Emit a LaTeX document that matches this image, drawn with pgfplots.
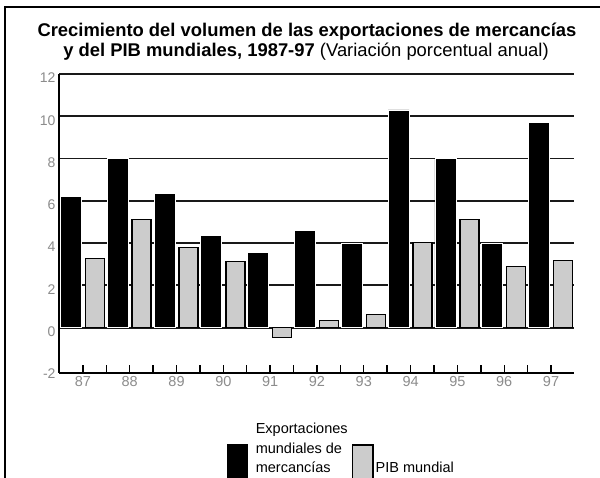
\documentclass[border=0pt]{standalone}
\usepackage{fontspec}
\setmainfont{Liberation Sans}
\usepackage{pgfplots}
\pgfplotsset{compat=1.18}
\begin{document}
\begin{tikzpicture}
\useasboundingbox (0pt,0pt) rectangle (600pt,478pt);
\clip (0pt,0pt) rectangle (600pt,478pt);
\fill[white] (0pt,0pt) rectangle (600pt,478pt);
\draw[line width=1.6pt] (5pt,-20pt) -- (5pt,471pt) -- (620pt,471pt);
\node[anchor=base, inner sep=0pt, font=\fontsize{18.4}{22}\selectfont\bfseries] at (307pt,441.5pt) {Crecimiento del volumen de las exportaciones de mercancías};
\node[anchor=base, inner sep=0pt, font=\fontsize{18.4}{22}\selectfont] at (306pt,421pt) {\textbf{y del PIB mundiales, 1987-97} (Variación porcentual anual)};
\begin{axis}[
  at={(59pt,105pt)}, anchor=south west,
  scale only axis, width=515pt, height=299pt,
  xmin=86.49, xmax=97.49, ymin=-2.15, ymax=12,
  axis x line*=bottom, axis y line*=left,
  axis line style={line width=1.9pt, black},
  xtick={87,88,...,97},
  extra x ticks={87.5,88.5,...,96.5}, extra x tick labels={},
  extra x tick style={grid=none},
  ytick={0,2,...,12},
  extra y ticks={-2}, extra y tick style={grid=none, ytick style={draw=none}},
  ymajorgrids, grid style={line width=1.9pt, black!90},
  tick align=inside, major tick length=8pt,
  xtick style={line width=1.4pt, black},
  ytick style={draw=none},
  /pgf/number format/assume math mode=true,
  yticklabel style={font=\fontsize{14}{14}\selectfont, text=black!45, yshift=-4pt},
  xticklabel style={font=\fontsize{14.5}{14.5}\selectfont, text=black!45},
  legend columns=2,
  legend style={at={(axis description cs:0.32621,-0.15167)}, anchor=north west,
    draw=none, fill=none, inner sep=0pt, outer sep=0pt,
    font=\fontsize{14.5}{19.5}\selectfont,
    cells={anchor=base west, inner sep=0pt},
    column sep=0pt,
    /tikz/every even column/.append style={column sep=2pt}},
]
\addplot[ybar, bar width=21pt, bar shift=-12pt, fill=black, draw=white, line width=0.8pt,
  legend image code/.code={\fill[black] (0pt,-20pt) rectangle (20pt,29pt); \path (26pt,0pt);}]
  coordinates {(87,6.2) (88,8.0) (89,6.35) (90,4.35) (91,3.55) (92,4.6) (93,4.0) (94,10.3) (95,8.0) (96,4.0) (97,9.7)};
\addlegendentry{\begin{tabular}[b]{@{}l@{}}Exportaciones\\mundiales de\\mercancías\end{tabular}}
\addplot[ybar, bar width=19pt, bar shift=12pt, fill=black!20, draw=black, line width=1.5pt,
  legend image code/.code={\draw[fill=black!20, draw=black, line width=1.5pt] (0.75pt,-20pt) rectangle (21.25pt,28pt); \path (19pt,0pt);}]
  coordinates {(87,3.27) (88,5.12) (89,3.8) (90,3.13) (91,-0.47) (92,0.33) (93,0.62) (94,4.03) (95,5.12) (96,2.9) (97,3.18)};
\addlegendentry{PIB mundial}
\end{axis}
\end{tikzpicture}
\end{document}
